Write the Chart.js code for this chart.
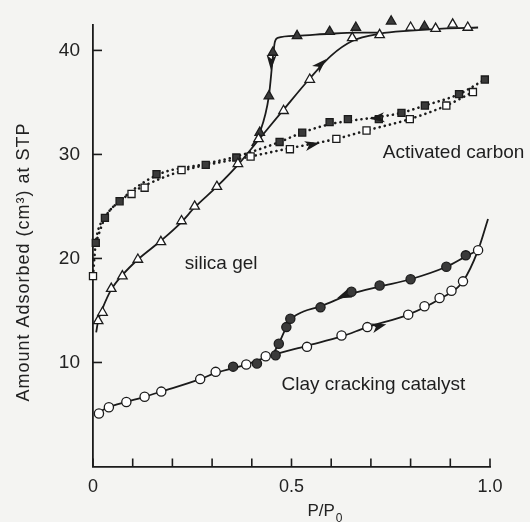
<!DOCTYPE html>
<html>
<head>
<meta charset="utf-8">
<script src="https://cdn.jsdelivr.net/npm/chart.js@4.4.1/dist/chart.umd.min.js"></script>
<style>
  html, body { margin: 0; padding: 0; background: #f4f4f2; }
  #wrap { width: 530px; height: 522px; position: relative; }
</style>
</head>
<body>
<div id="wrap"><canvas id="c" width="530" height="522"></canvas></div>
<script>
// ---------- DATA ----------
// Silica gel, adsorption (open triangles)
const silicaAdsX = [0.013, 0.024, 0.046, 0.074, 0.113, 0.171, 0.223, 0.256, 0.312, 0.365, 0.417, 0.480, 0.546, 0.653, 0.722, 0.800, 0.863, 0.906, 0.944];
const silicaAdsY = [14.0, 14.8, 17.1, 18.3, 19.9, 21.6, 23.6, 25.0, 26.9, 29.1, 31.5, 34.2, 37.2, 41.2, 41.5, 42.2, 42.1, 42.5, 42.2];
// Silica gel, desorption (filled triangles)
const silicaDesX = [0.420, 0.443, 0.453, 0.514, 0.596, 0.662, 0.751, 0.835];
const silicaDesY = [32.1, 35.6, 39.8, 41.4, 41.8, 42.2, 42.8, 42.3];
// Activated carbon, adsorption (open squares)
const carbonAdsX = [0.000, 0.097, 0.130, 0.223, 0.397, 0.496, 0.613, 0.689, 0.798, 0.890, 0.957];
const carbonAdsY = [18.3, 26.2, 26.8, 28.5, 29.8, 30.5, 31.5, 32.3, 33.4, 34.7, 36.0];
// Activated carbon, desorption (filled squares)
const carbonDesX = [0.007, 0.030, 0.067, 0.160, 0.284, 0.361, 0.470, 0.527, 0.596, 0.642, 0.720, 0.777, 0.836, 0.922, 0.987];
const carbonDesY = [21.5, 23.9, 25.5, 28.1, 29.0, 29.7, 31.2, 32.1, 33.1, 33.4, 33.4, 34.0, 34.7, 35.8, 37.2];
// Clay cracking catalyst, adsorption (open circles)
const clayAdsX = [0.015, 0.040, 0.084, 0.130, 0.172, 0.270, 0.309, 0.386, 0.435, 0.539, 0.626, 0.691, 0.794, 0.835, 0.873, 0.903, 0.932, 0.970];
const clayAdsY = [5.1, 5.7, 6.2, 6.7, 7.2, 8.4, 9.1, 9.8, 10.6, 11.5, 12.6, 13.4, 14.6, 15.4, 16.2, 16.9, 17.8, 20.8];
// Clay cracking catalyst, desorption (filled circles)
const clayDesX = [0.353, 0.413, 0.460, 0.468, 0.487, 0.497, 0.573, 0.651, 0.722, 0.800, 0.890, 0.939];
const clayDesY = [9.6, 9.9, 10.7, 11.8, 13.4, 14.2, 15.3, 16.8, 17.4, 18.0, 19.2, 20.3];

// Smooth guide curves drawn through the data (vertices)
const silicaAdsLineX = [0.008, 0.013, 0.024, 0.046, 0.074, 0.113, 0.171, 0.223, 0.256, 0.312, 0.365, 0.417, 0.480, 0.546, 0.600, 0.653, 0.722, 0.800, 0.880, 0.970];
const silicaAdsLineY = [12.9, 14.0, 15.2, 17.0, 18.4, 19.9, 21.7, 23.5, 24.9, 26.9, 29.0, 31.4, 34.3, 37.3, 39.5, 40.9, 41.6, 41.9, 42.1, 42.2];
const silicaDesLineX = [0.400, 0.420, 0.443, 0.453, 0.458, 0.465, 0.514, 0.596, 0.662, 0.722];
const silicaDesLineY = [30.8, 32.1, 35.6, 39.3, 40.8, 41.2, 41.4, 41.6, 41.7, 41.7];
const carbonAdsLineX = [0.000, 0.007, 0.030, 0.067, 0.097, 0.130, 0.223, 0.397, 0.496, 0.613, 0.689, 0.798, 0.890, 0.957];
const carbonAdsLineY = [18.3, 21.5, 23.9, 25.5, 26.3, 27.0, 28.4, 29.8, 30.6, 31.5, 32.3, 33.4, 34.7, 36.0];
const carbonDesLineX = [0.007, 0.030, 0.067, 0.160, 0.284, 0.361, 0.470, 0.527, 0.596, 0.660, 0.720, 0.777, 0.836, 0.922, 0.987];
const carbonDesLineY = [21.5, 23.9, 25.5, 28.0, 29.1, 29.8, 31.2, 32.1, 32.9, 33.3, 33.6, 34.0, 34.7, 35.8, 37.2];
const clayAdsLineX = [0.005, 0.040, 0.084, 0.130, 0.172, 0.270, 0.309, 0.386, 0.435, 0.539, 0.626, 0.691, 0.794, 0.873, 0.932, 0.970, 0.995];
const clayAdsLineY = [5.0, 5.7, 6.2, 6.7, 7.2, 8.4, 9.0, 9.8, 10.5, 11.6, 12.5, 13.4, 14.6, 16.1, 17.8, 20.8, 23.8];
const clayDesLineX = [0.455, 0.468, 0.487, 0.500, 0.530, 0.573, 0.651, 0.722, 0.800, 0.890, 0.939, 0.970];
const clayDesLineY = [10.9, 11.8, 13.4, 14.2, 14.9, 15.4, 16.6, 17.3, 18.0, 19.2, 20.2, 20.8];

// Direction arrows on the curves (position and direction in data units)
const arrowX  = [0.575, 0.449, 0.714, 0.554, 0.630, 0.722];
const arrowY  = [38.7, 38.8, 33.5, 30.95, 16.4, 13.5];
const arrowDX = [0.10, -0.004, -0.10, 0.10, -0.10, 0.10];
const arrowDY = [3.7, -3.5, -0.4, 0.8, -1.6, 1.1];

// Text labels in the plot (anchor in data units, left aligned)
const labelText = ["Activated carbon", "silica gel", "Clay cracking catalyst"];
const labelX = [0.730, 0.231, 0.475];
const labelY = [30.2, 19.5, 7.9];

// Axes
const xTickValues = [0, 0.1, 0.2, 0.3, 0.4, 0.5, 0.6, 0.7, 0.8, 0.9, 1.0];
const xTickLabels = {0: "0", 5: "0.5", 10: "1.0"};
const yTickValues = [10, 20, 30, 40];
const xMin = 0, xMax = 1.0, yMin = 0, yMax = 42.5;
const yTitle = "Amount Adsorbed (cm\u00B3) at STP";
const xTitle = "P/P";
const xTitleSub = "0";

// ---------- CHART ----------
const INK = "#1b1b1b";
const FONT = "'Liberation Sans', Arial, Helvetica, sans-serif";
const pts = (xs, ys) => xs.map((x, i) => ({x: x, y: ys[i]}));

function markerSet(xs, ys, style, filled, r) {
  return {
    type: "scatter", data: pts(xs, ys), showLine: false, order: 0,
    pointStyle: style, pointRadius: r, pointHoverRadius: r,
    backgroundColor: filled ? "#3a3a3a" : "#ffffff",
    borderColor: INK, pointBorderWidth: 1.3, clip: false
  };
}
function curveSet(xs, ys, dotted) {
  return {
    type: "line", data: pts(xs, ys), order: 1, pointRadius: 0,
    borderColor: INK, borderWidth: dotted ? 2.6 : 1.8,
    borderDash: dotted ? [0.1, 5.2] : [], borderCapStyle: dotted ? "round" : "butt",
    cubicInterpolationMode: "monotone", fill: false, clip: false
  };
}

const bgPlugin = {
  id: "bg",
  beforeDraw(chart) {
    const ctx = chart.ctx;
    ctx.save();
    ctx.fillStyle = "#f4f4f2";
    ctx.fillRect(0, 0, chart.width, chart.height);
    ctx.restore();
  }
};

const decoPlugin = {
  id: "deco",
  afterDatasetsDraw(chart) {
    const ctx = chart.ctx;
    const sx = chart.scales.x, sy = chart.scales.y;
    const a = chart.chartArea;
    ctx.save();
    // inward ticks
    ctx.strokeStyle = INK; ctx.lineWidth = 1.6;
    xTickValues.forEach(v => {
      const px = sx.getPixelForValue(v);
      ctx.beginPath(); ctx.moveTo(px, a.bottom); ctx.lineTo(px, a.bottom - 8); ctx.stroke();
    });
    yTickValues.forEach(v => {
      const py = sy.getPixelForValue(v);
      ctx.beginPath(); ctx.moveTo(a.left, py); ctx.lineTo(a.left + 9, py); ctx.stroke();
    });
    // arrows
    ctx.fillStyle = INK;
    arrowX.forEach((x, i) => {
      const p0x = sx.getPixelForValue(x), p0y = sy.getPixelForValue(arrowY[i]);
      const p1x = sx.getPixelForValue(x + arrowDX[i]), p1y = sy.getPixelForValue(arrowY[i] + arrowDY[i]);
      const ang = Math.atan2(p1y - p0y, p1x - p0x);
      ctx.save();
      ctx.translate(p0x, p0y); ctx.rotate(ang);
      ctx.beginPath();
      ctx.moveTo(7, 0);
      ctx.lineTo(-8, -5);
      ctx.lineTo(-4, 0);
      ctx.lineTo(-8, 5);
      ctx.closePath();
      ctx.fill();
      ctx.restore();
    });
    // in-plot labels
    ctx.fillStyle = "#1e1e1e";
    ctx.font = "19px " + FONT;
    ctx.textBaseline = "middle"; ctx.textAlign = "left";
    labelText.forEach((t, i) => {
      ctx.fillText(t, sx.getPixelForValue(labelX[i]), sy.getPixelForValue(labelY[i]));
    });
    // y axis title (rotated)
    ctx.save();
    ctx.translate(24, 262);
    ctx.rotate(-Math.PI / 2);
    ctx.font = "18px " + FONT;
    ctx.letterSpacing = "1px";
    ctx.fillStyle = "#222";
    ctx.textAlign = "center"; ctx.textBaseline = "middle";
    ctx.fillText(yTitle, 0, 0);
    ctx.restore();
    // x axis title with subscript
    ctx.fillStyle = "#222";
    ctx.font = "17px " + FONT;
    ctx.textBaseline = "alphabetic"; ctx.textAlign = "left";
    const tx = sx.getPixelForValue(0.54);
    ctx.fillText(xTitle, tx, 516);
    const w = ctx.measureText(xTitle).width;
    ctx.font = "12px " + FONT;
    ctx.fillText(xTitleSub, tx + w + 1, 522);
    ctx.restore();
  }
};

new Chart(document.getElementById("c"), {
  data: {
    datasets: [
      markerSet(silicaAdsX, silicaAdsY, "triangle", false, 5.5),
      markerSet(silicaDesX, silicaDesY, "triangle", true, 5.5),
      markerSet(carbonAdsX, carbonAdsY, "rect", false, 5),
      markerSet(carbonDesX, carbonDesY, "rect", true, 5),
      markerSet(clayAdsX, clayAdsY, "circle", false, 4.6),
      markerSet(clayDesX, clayDesY, "circle", true, 4.6),
      curveSet(silicaAdsLineX, silicaAdsLineY, false),
      curveSet(silicaDesLineX, silicaDesLineY, false),
      curveSet(carbonAdsLineX, carbonAdsLineY, true),
      curveSet(carbonDesLineX, carbonDesLineY, true),
      curveSet(clayAdsLineX, clayAdsLineY, false),
      curveSet(clayDesLineX, clayDesLineY, false)
    ]
  },
  options: {
    responsive: false, animation: false, devicePixelRatio: 1,
    layout: { padding: { top: 22, right: 40, left: 0, bottom: 0 } },
    plugins: { legend: { display: false }, tooltip: { enabled: false }, title: { display: false } },
    scales: {
      x: {
        type: "linear", min: xMin, max: xMax,
        grid: { display: false, drawTicks: false },
        border: { display: true, color: INK, width: 1.8 },
        ticks: {
          stepSize: 0.1, autoSkip: false, maxRotation: 0, padding: 10,
          color: "#222", font: { family: FONT, size: 18 },
          callback: v => { const k = Math.round(v * 10); return (k in xTickLabels && Math.abs(v * 10 - k) < 1e-6) ? xTickLabels[k] : ""; }
        },
        afterFit(s) { s.height = 55.5; }
      },
      y: {
        type: "linear", min: yMin, max: yMax,
        grid: { display: false, drawTicks: false },
        border: { display: true, color: INK, width: 1.8 },
        ticks: {
          stepSize: 10, autoSkip: false, padding: 13,
          color: "#222", font: { family: FONT, size: 19 },
          callback: v => (yTickValues.includes(v) ? String(v) : "")
        },
        afterFit(s) { s.width = 93; }
      }
    }
  },
  plugins: [bgPlugin, decoPlugin]
});
</script>
</body>
</html>
